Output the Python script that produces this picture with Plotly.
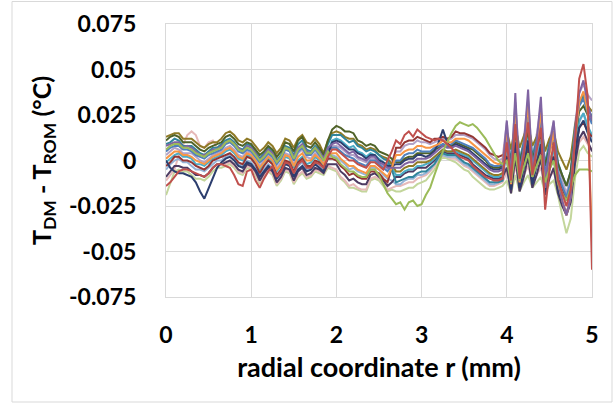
import plotly.graph_objects as go

# radial coordinate r (mm)
r_mm = [
    0.00, 0.05, 0.10, 0.15, 0.20, 0.25, 0.30, 0.35, 0.40, 0.45,
    0.50, 0.55, 0.60, 0.65, 0.70, 0.75, 0.80, 0.85, 0.90, 0.95,
    1.00, 1.05, 1.10, 1.15, 1.20, 1.25, 1.30, 1.35, 1.40, 1.45,
    1.50, 1.55, 1.60, 1.65, 1.70, 1.75, 1.80, 1.85, 1.90, 1.95,
    2.00, 2.05, 2.10, 2.15, 2.20, 2.25, 2.30, 2.35, 2.40, 2.45,
    2.50, 2.55, 2.60, 2.65, 2.70, 2.75, 2.80, 2.85, 2.90, 2.95,
    3.00, 3.05, 3.10, 3.15, 3.20, 3.25, 3.30, 3.35, 3.40, 3.45,
    3.50, 3.55, 3.60, 3.65, 3.70, 3.75, 3.80, 3.85, 3.90, 3.95,
    4.00, 4.05, 4.10, 4.15, 4.20, 4.25, 4.30, 4.35, 4.40, 4.45,
    4.50, 4.55, 4.60, 4.65, 4.70, 4.75, 4.80, 4.85, 4.90, 4.95,
    5.00,
]

# T_DM - T_ROM for each case, in thousandths of a degree C (0.001 °C)
s01_mdegC = [5,7,8,8,6,6,5,3,2,1, 3,4,5,6,9,10,8,5,4,6, 5,2,-1,1,4,2,-2,1,6,5, 0,5,7,3,3,6,3,0,6,7,
             7,5,3,2,1,-1,-2,-3,0,0, -2,-4,-6,-3,0,0,3,4,4,6, 5,5,5,7,8,9,8,9,11,10, 9,8,7,5,3,1,-2,-3,-3,-2,
             14,-6,22,-5,6,23,-3,8,21,-8, 5,13,-6,-14,-20,-12,13,30,34,26, 20]
s02_mdegC = [-14,-12,-9,-6,-5,-5,-6,-7,-8,-9, -7,-4,-2,-2,-3,-4,-8,-13,-14,-6, -5,-11,-15,-10,-6,-3,-9,-6,-1,-2,
             -7,-2,0,-4,-4,-1,-2,-4,2,6, 6,4,2,0,0,-2,-3,-4,-1,-1, -3,-5,0,5,11,9,14,16,13,17,
             15,13,12,11,12,11,9,7,4,2, 1,0,-3,-5,-7,-9,-10,-11,-11,-10,
             10,-11,20,-10,3,21,-8,4,18,-27, -6,10,-11,-18,-25,-16,10,45,53,35, -60]
s03_mdegC = [6,8,9,9,7,7,6,4,3,2, 4,5,6,7,10,11,9,6,5,7, 6,3,0,2,5,3,-1,2,7,6, 1,6,8,4,4,7,4,0,5,2,
             1,-2,-4,-6,-6,-8,-9,-9,-5,-5, -8,-13,-18,-21,-24,-23,-27,-23,-22,-25,
             -24,-19,-15,-8,-1,5,10,15,19,21, 20,19,20,18,15,12,8,4,0,-2,
             0,-12,4,-11,-4,4,-9,-3,3,-12, -5,0,-12,-18,-22,-15,-8,-5,-5,-5, -6]
s04_mdegC = [8,9,10,10,7,8,7,5,3,3, 4,6,6,8,10,11,9,7,5,8, 7,4,0,3,6,4,-1,2,7,6, 2,7,9,5,4,7,5,1,7,9,
             10,8,6,4,5,2,1,0,2,2, -1,-2,-4,-4,-4,-4,-2,-1,-1,1, 1,1,2,4,6,8,7,7,8,7, 6,5,3,1,-1,-3,-5,-6,-6,-5,
             22,-12,37,-11,8,39,-8,10,35,-15, 6,22,-11,-22,-30,-20,16,37,44,31, 22]
s05_mdegC = [-1,1,3,4,2,2,1,-2,-2,-3, -1,1,2,3,5,6,4,1,0,3, 2,-1,-5,-2,1,-1,-6,-3,2,1, -4,0,2,-2,-1,2,0,-3,5,11,
             12,11,9,7,8,5,4,2,4,3, 1,-1,-2,-4,-8,-8,-6,-5,-5,-3, -3,-2,-1,1,4,6,5,5,5,4, 3,2,0,-2,-4,-6,-8,-9,-9,-8,
             6,-10,12,-9,1,13,-7,1,11,-11, 0,6,-10,-16,-22,-15,7,22,26,19, 14]
s06_mdegC = [1,3,5,5,3,3,2,0,-1,-2, 0,2,3,4,6,7,5,2,1,4, 3,0,-4,-1,2,0,-5,-2,3,2, -3,2,4,0,0,3,1,-2,3,4,
             4,1,-1,-3,-3,-5,-6,-7,-3,-3, -5,-7,-9,-4,3,3,5,6,6,8, 8,7,7,8,9,11,10,10,12,12, 12,11,9,7,5,3,1,-1,-2,-1,
             17,-13,30,-12,5,32,-9,7,28,-15, 3,16,-12,-22,-30,-20,13,32,38,27, -45]
s07_mdegC = [0,-4,-6,-7,-7,-8,-9,-12,-17,-21, -15,-10,-4,-1,1,2,0,-3,-4,-1, -2,-5,-9,-6,-3,-5,-10,-7,-2,-3,
             -9,-5,-3,-6,-5,-2,-4,-6,3,10, 11,10,8,6,6,4,3,1,3,3, 0,-1,-3,-3,-2,-2,0,1,1,3,
             3,2,3,5,10,17,10,7,9,8, 7,6,4,2,0,-2,-4,-5,-5,-4,
             2,-16,10,-15,-4,11,-13,-3,9,-17, -5,2,-16,-23,-29,-21,3,18,22,15, 10]
s08_mdegC = [-3,-1,2,2,0,0,-1,-3,-4,-5, -3,0,1,2,3,4,2,-1,-2,2, 1,-2,-7,-3,0,-2,-8,-5,0,-1, -6,-1,1,-3,-3,0,-1,-4,1,1,
             0,-3,-5,-8,-7,-9,-10,-10,-6,-6, -7,-10,-12,-4,7,7,10,11,11,13, 12,11,10,12,12,13,12,13,16,15,
             15,14,13,11,9,7,4,3,2,3,
             2,-9,6,-8,-1,7,-7,-1,6,-10, -2,2,-10,-15,-21,-13,5,18,21,16, 13]
s09_mdegC = [11,13,14,13,10,10,10,8,6,5, 7,8,9,10,13,14,12,9,8,10, 9,6,3,5,8,6,2,5,10,9, 5,11,13,8,7,10,7,3,11,17,
             19,18,16,16,15,11,10,8,9,8, 5,4,3,1,-1,-1,1,2,2,4, 4,4,4,6,7,9,8,8,10,9, 8,7,6,4,2,0,-3,-4,-4,-3,
             11,-2,16,-1,7,16,1,7,15,-3, 6,11,-2,-8,-14,-6,13,27,30,25, 21]
s10_mdegC = [-9,-6,-3,-3,-4,-4,-6,-8,-8,-9, -7,-4,-2,-2,-1,0,-2,-5,-6,-2, -3,-6,-11,-7,-4,-6,-12,-9,-4,-5,
             -11,-6,-4,-8,-7,-4,-5,-7,-2,-2, -2,-6,-8,-11,-10,-12,-13,-13,-8,-7, -9,-11,-14,-12,-9,-9,-7,-6,-6,-4,
             -4,-4,-2,0,3,5,4,4,4,3, 2,1,-2,-4,-6,-8,-9,-10,-10,-9,
             -4,-18,2,-17,-9,2,-15,-8,1,-19, -10,-4,-18,-25,-30,-23,-2,12,16,10, 5]
s11_mdegC = [9,10,12,11,8,8,8,6,4,3, 5,7,7,9,11,12,10,7,6,9, 8,5,1,4,7,5,0,3,8,7, 3,9,11,6,5,8,6,2,9,14,
             14,14,12,10,11,8,7,5,6,5, 3,1,0,-5,-12,-11,-10,-9,-9,-7, -6,-6,-4,-2,2,4,3,3,3,1,
             -1,-2,-4,-6,-8,-10,-12,-12,-12,-11,
             16,-1,23,0,10,24,2,11,22,-2, 9,16,-1,-8,-14,-6,17,32,36,29, 24]
s12_mdegC = [13,14,15,15,12,12,12,10,8,7, 9,10,10,12,15,16,14,11,10,12, 11,8,5,7,10,8,4,7,12,11, 7,12,14,10,9,12,9,4,11,15,
             16,15,13,12,12,9,8,6,7,6, 3,2,1,-2,-6,-6,-4,-3,-3,-1, -1,-1,0,2,4,6,5,5,6,5, 4,3,1,-1,-3,-5,-7,-8,-8,-7,
             16,6,19,7,13,20,8,13,19,5, 12,16,5,0,-5,2,19,32,35,30, 27]
s13_mdegC = [-11,-8,-5,3,9,14,16,14,8,7, 10,11,7,3,-2,-1,-3,-6,-7,-3, -4,-7,-12,-8,-5,-7,-13,-10,-5,-6,
             -12,-8,-6,-9,-8,-5,-6,-7,-3,-4, -5,-9,-11,-14,-13,-15,-16,-16,-10,-9, -10,-13,-16,-15,-14,-14,-13,-12,-12,-10,
             -9,-8,-6,-3,0,3,2,1,1,-1, -3,-4,-6,-8,-10,-12,-14,-14,-13,-12,
             -6,-14,-3,-13,-8,-3,-12,-8,-4,-15, -9,-6,-15,-20,-25,-18,-2,10,13,9, 6]
s14_mdegC = [-19,-13,-6,-5,-6,-6,-8,-10,-10,-11, -9,-6,-4,-4,-3,-2,-4,-7,-8,-4, -5,-8,-13,-9,-6,-8,-14,-11,-6,-7,
             -13,-9,-7,-10,-9,-6,-7,-8,-4,-5, -6,-10,-12,-15,-15,-16,-17,-17,-11,-10, -11,-14,-17,-16,-17,-17,-16,-15,-15,-13,
             -12,-11,-8,-5,-1,2,1,0,-1,-3, -5,-6,-9,-11,-13,-15,-16,-16,-15,-14,
             -11,-18,-8,-17,-12,-8,-15,-12,-9,-18, -13,-11,-19,-30,-40,-32,-10,5,8,4, 2]
s15_mdegC = [-5,-2,0,1,-1,-1,-3,-5,-5,-6, -4,-2,0,0,2,3,1,-2,-3,0, -1,-4,-8,-5,-2,-4,-9,-6,-1,-2, -8,-3,-1,-5,-4,-1,-3,-5,1,3,
             2,0,-2,-5,-4,-6,-7,-8,-4,-4, -5,-8,-10,-11,-13,-13,-11,-10,-10,-8, -8,-7,-5,-2,1,3,2,2,2,0,
             -2,-3,-5,-7,-9,-11,-13,-13,-12,-11,
             5,-16,14,-15,-3,16,-13,-1,13,-17, -4,5,-16,-24,-30,-22,5,21,26,17, 11]
s16_mdegC = [3,5,7,6,4,4,4,2,0,-1, 1,3,4,5,7,8,6,3,2,5, 4,1,-3,0,3,1,-4,-1,4,3, -2,4,6,2,1,4,2,-1,5,8,
             8,7,5,3,3,1,0,-1,1,1, -1,-3,-5,0,5,5,8,9,9,11, 10,10,9,10,11,12,11,12,14,14, 14,13,12,10,8,6,3,1,0,1,
             21,-3,32,-2,12,33,1,14,30,-4, 11,21,-2,-11,-18,-9,20,37,42,36, 33]

x_tick_values = [0, 1, 2, 3, 4, 5]
x_tick_labels = ["0", "1", "2", "3", "4", "5"]
y_tick_values = [-0.075, -0.05, -0.025, 0, 0.025, 0.05, 0.075]
y_tick_labels = ["-0.075", "-0.05", "-0.025", "0", "0.025", "0.05", "0.075"]

series = [
    ("case 14", s14_mdegC, "#C3D69B"),
    ("case 13", s13_mdegC, "#E6B9B8"),
    ("case 15", s15_mdegC, "#95B3D7"),
    ("case 16", s16_mdegC, "#B3A2C7"),
    ("case 10", s10_mdegC, "#4D3B62"),
    ("case 5", s05_mdegC, "#4BACC6"),
    ("case 8", s08_mdegC, "#943634"),
    ("case 12", s12_mdegC, "#8F7A27"),
    ("case 11", s11_mdegC, "#31859C"),
    ("case 9", s09_mdegC, "#4F6228"),
    ("case 1", s01_mdegC, "#4F81BD"),
    ("case 7", s07_mdegC, "#2C3E6E"),
    ("case 6", s06_mdegC, "#F79646"),
    ("case 4", s04_mdegC, "#8064A2"),
    ("case 3", s03_mdegC, "#9BBB59"),
    ("case 2", s02_mdegC, "#C0504D"),
]

fig = go.Figure()
for name, vals, color in series:
    fig.add_trace(go.Scatter(
        x=r_mm, y=[v / 1000 for v in vals], mode="lines", name=name,
        line=dict(color=color, width=2), showlegend=False,
    ))

font_main = "Lato, 'Open Sans', sans-serif"
grid = "#D9D9D9"

fig.update_layout(
    width=615, height=403,
    margin=dict(l=166, r=23, t=24, b=106),
    paper_bgcolor="white", plot_bgcolor="white",
    font=dict(family=font_main, color="#000000"),
)
fig.update_xaxes(
    range=[0, 5], tickvals=x_tick_values, ticktext=x_tick_labels,
    showgrid=True, gridcolor=grid, gridwidth=1, zeroline=False,
    showline=True, linecolor=grid, linewidth=1, mirror=True,
    ticks="", ticklabelstandoff=17,
    tickfont=dict(family=font_main, size=23, weight="bold", color="#000000"),
    title=dict(text="radial coordinate r (mm)", standoff=11,
               font=dict(family=font_main, size=27, weight="bold", color="#000000")),
    automargin=False,
)
fig.update_yaxes(
    range=[-0.075, 0.075], tickvals=y_tick_values, ticktext=y_tick_labels,
    showgrid=True, gridcolor=grid, gridwidth=1, zeroline=False,
    showline=True, linecolor=grid, linewidth=1, mirror=True,
    ticks="", ticklabelstandoff=24,
    tickfont=dict(family=font_main, size=23, weight="bold", color="#000000"),
    title=dict(text="T<sub>DM</sub> - T<sub>ROM</sub> (°C)", standoff=10,
               font=dict(family=font_main, size=25, weight="bold", color="#000000")),
    automargin=False,
)
# outer chart border
fig.add_shape(type="rect", xref="paper", yref="paper",
              x0=(12 - 166) / 426, x1=(612 - 166) / 426,
              y0=(297 - 402) / 273, y1=(297 - 1.5) / 273,
              line=dict(color="#D9D9D9", width=1), fillcolor="rgba(0,0,0,0)", layer="below")

fig.write_html("out.html", config={"displayModeBar": False},
               post_script="document.body.style.margin='0';document.body.style.padding='0';")
